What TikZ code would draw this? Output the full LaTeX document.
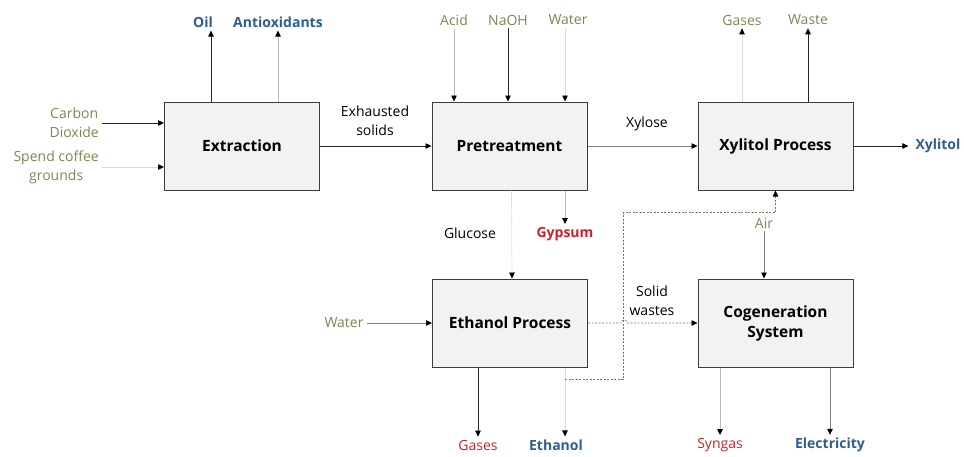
\documentclass[tikz,border=0pt]{standalone}
\usepackage{fontspec}
\setmainfont{Open Sans}
\usepackage{tikz}
\usetikzlibrary{arrows.meta}

\definecolor{boxfill}{RGB}{242,242,242}
\definecolor{boxline}{RGB}{60,60,60}
\definecolor{feedcol}{RGB}{120,136,84}
\definecolor{prodcol}{RGB}{46,94,142}
\definecolor{wastecol}{RGB}{196,34,46}

\tikzset{
  unit/.style={draw=boxline, line width=1pt, fill=boxfill, minimum width=155pt,
    minimum height=88pt, align=center, font=\bfseries\fontsize{15.5}{20}\selectfont},
  lbl/.style={inner sep=3pt, align=center, font=\fontsize{14}{19}\selectfont},
  feed/.style={lbl, text=feedcol},
  prod/.style={lbl, text=prodcol, font=\bfseries\fontsize{14}{19}\selectfont},
  waste/.style={lbl, text=wastecol},
  tip/.style={-{Triangle[length=6pt,width=5.5pt,color=black]}},
  dark/.style={tip, draw=black!85, line width=0.7pt},
  mid/.style={tip, draw=black!50, line width=0.7pt},
  light/.style={tip, draw=black!28, line width=0.7pt},
  faint/.style={tip, draw=black!14, line width=0.7pt},
  recycle/.style={tip, draw=black!55, line width=0.6pt, dash pattern=on 2pt off 1.5pt},
}

\begin{document}
\begin{tikzpicture}[x=1pt, y=-1pt] %[scale=0.8]
      \useasboundingbox (0,0) rectangle (964,456);
      % process units
      \node[unit] (extr) at (242,146) {Extraction};
      \node[unit] (pretr) at (509.5,146) {Pretreatment};
      \node[unit] (xyl) at (775.5,146) {Xylitol Process};
      \node[unit] (ethp) at (510,323) {Ethanol Process};
      \node[unit] (cogen) at (775.5,323) {Cogeneration\\System};

      % extraction
      \node[feed, anchor=east] (co2) at (102,123) {Carbon\\Dioxide};
      \node[feed, anchor=east] (scg) at (102,167) {Spend coffee\\grounds};
      \node[prod] (oil) at (203,22) {Oil};
      \node[prod] (anti) at (278,22) {Antioxidants};
      \draw[dark] (co2.east) -- (co2.east -| extr.west);
      \draw[faint] (scg.east) -- (scg.east -| extr.west);
      \draw[dark] ([xshift=-31pt]extr.north) -- ([xshift=-31pt]extr.north |- oil.south);
      \draw[light] (extr.north -| anti) -- (anti);

      % pretreatment
      \node[lbl] (exh) at (375,121) {Exhausted\\solids};
      \node[feed] (acid) at (454,20) {Acid};
      \node[feed] (naoh) at (508,20) {NaOH};
      \node[feed] (wtop) at (568,20) {Water};
      \node[waste, font=\bfseries\fontsize{14}{19}\selectfont] (gyp) at (565,234) {Gypsum};
      \node[lbl] (gluc) at (470,233) {Glucose};
      \draw[dark] (extr.east) -- (pretr.west);
      \draw[light] (acid) -- (acid |- pretr.north);
      \draw[dark] (naoh) -- (naoh |- pretr.north);
      \draw[faint] ([xshift=-3pt]wtop.south) -- ([xshift=-3pt]wtop.south |- pretr.north);
      \draw[light] (pretr.south -| gyp) -- (gyp);
      \draw[light, densely dotted] ([xshift=2pt]pretr.south) -- ([xshift=2pt]ethp.north);

      % xylitol
      \node[lbl] (xylose) at (647,124) {Xylose};
      \node[feed] (gtop) at (742,20) {Gases};
      \node[feed] (waste) at (808,20) {Waste};
      \node[prod] (xylitol) at (938,146) {Xylitol};
      \draw[mid] (pretr.east) -- (xyl.west);
      \draw[dark] (xyl.east) -- ([xshift=-4pt]xylitol.west);
      \draw[faint] (xyl.north -| gtop) -- (gtop);
      \draw[dark] (xyl.north -| waste) -- (waste);

      % ethanol
      \node[feed] (wet) at (344,323) {Water};
      \node[waste] (gbot) at (478,445) {Gases};
      \node[prod] (etoh) at (556,445) {Ethanol};
      \draw[mid] (wet.east) -- (ethp.west);
      \draw[dark] (ethp.south -| gbot) -- (gbot);
      \draw[faint] ([xshift=55pt]ethp.south) -- ([xshift=55pt]ethp.south |- etoh.north);

      % solid wastes and recycle
      \node[lbl] (sw) at (652,301) {Solid\\wastes};
      \coordinate (split) at ([xshift=55pt,yshift=-12pt]ethp.south);
      \draw[recycle] (ethp.east) -- ++(33,0) arc[start angle=180, end angle=0, radius=3pt] -- (cogen.west);
      \draw[recycle] (split) -- ++(58,0) |- ([yshift=-22pt]xyl.south) -- (xyl.south);

      % cogeneration
      \node[feed] (air) at (764,223) {Air};
      \node[waste] (syn) at (720,445) {Syngas};
      \node[prod] (elec) at (830,445) {Electricity};
      \draw[mid] (air) -- (air |- cogen.north);
      \draw[light] (cogen.south -| syn) -- (syn);
      \draw[mid] (cogen.south -| elec) -- (elec);
    \end{tikzpicture}
\end{document}
